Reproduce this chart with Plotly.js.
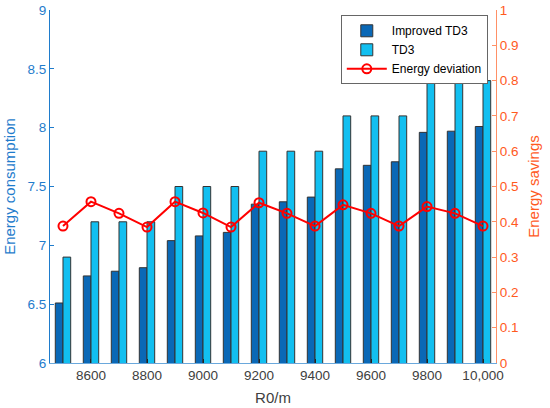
<!DOCTYPE html>
<html>
<head>
<meta charset="utf-8">
<script src="https://cdn.plot.ly/plotly-3.0.1.min.js"></script>
<style>html,body{margin:0;padding:0;background:#fff;}#chart{width:550px;height:408px;}</style>
</head>
<body>
<div id="chart"></div>
<script>
var categories = [8500, 8600, 8700, 8800, 8900, 9000, 9100, 9200, 9300, 9400, 9500, 9600, 9700, 9800, 9900, 10000];
var improvedTD3 = [6.51, 6.74, 6.78, 6.81, 7.04, 7.08, 7.11, 7.35, 7.37, 7.41, 7.65, 7.68, 7.71, 7.96, 7.97, 8.01];
var td3 = [6.9, 7.2, 7.2, 7.2, 7.5, 7.5, 7.5, 7.8, 7.8, 7.8, 8.1, 8.1, 8.1, 8.4, 8.4, 8.4];
var energyDeviation = [0.388, 0.457, 0.424, 0.385, 0.457, 0.425, 0.385, 0.454, 0.424, 0.388, 0.448, 0.424, 0.388, 0.443, 0.424, 0.388];
var xTickVals = [8600, 8800, 9000, 9200, 9400, 9600, 9800, 10000];
var xTickText = ['8600', '8800', '9000', '9200', '9400', '9600', '9800', '10,000'];

var fontFam = 'Liberation Sans, Arial, Helvetica, sans-serif';
var blue = '#1f7ccc';
var orange = '#ff5a1e';

var traces = [
  {type: 'bar', name: 'Improved TD3', x: categories, y: improvedTD3, yaxis: 'y',
   marker: {color: '#0a68b6', line: {color: '#333333', width: 1}}},
  {type: 'bar', name: 'TD3', x: categories, y: td3, yaxis: 'y',
   marker: {color: '#12bff0', line: {color: '#333333', width: 1}}},
  {type: 'scatter', mode: 'lines+markers', name: 'Energy deviation', x: categories, y: energyDeviation, yaxis: 'y2',
   line: {color: '#ff0000', width: 2},
   marker: {symbol: 'circle-open', size: 9, color: '#ff0000', line: {width: 2, color: '#ff0000'}}}
];

var layout = {
  width: 550, height: 408,
  margin: {l: 50, r: 54, t: 10, b: 45},
  paper_bgcolor: '#ffffff', plot_bgcolor: '#ffffff',
  font: {family: fontFam, size: 13.5, color: '#404040'},
  barmode: 'group', bargap: 0.45, bargroupgap: 0,
  showlegend: true,
  legend: {x: 0.652, y: 0.985, xanchor: 'left', yanchor: 'top',
           bgcolor: '#ffffff', bordercolor: '#666666', borderwidth: 1,
           font: {family: fontFam, size: 12, color: '#000000'},
           itemwidth: 40, tracegroupgap: 0},
  xaxis: {range: [8453.6, 10046.4], tickvals: xTickVals, ticktext: xTickText,
          showgrid: false, zeroline: false, showline: true, linecolor: '#6aa8dc', linewidth: 1,
          ticks: 'inside', ticklen: 4, tickcolor: '#222222',
          tickfont: {family: fontFam, size: 13.5, color: '#404040'},
          title: {text: 'R0/m', font: {family: fontFam, size: 15, color: '#404040'}, standoff: 10}},
  yaxis: {range: [6, 9], dtick: 0.5, tick0: 6,
          showgrid: false, zeroline: false, showline: true, linecolor: blue, linewidth: 1,
          ticks: 'inside', ticklen: 4, tickcolor: blue,
          tickfont: {family: fontFam, size: 13.5, color: blue},
          title: {text: 'Energy consumption', font: {family: fontFam, size: 15, color: blue}, standoff: 8}},
  yaxis2: {range: [0, 1], dtick: 0.1, tick0: 0, overlaying: 'y', side: 'right',
           showgrid: false, zeroline: false, showline: true, linecolor: '#ff9066', linewidth: 1,
           ticks: 'inside', ticklen: 4, tickcolor: '#ff9066',
           tickfont: {family: fontFam, size: 13.5, color: orange},
           title: {text: 'Energy savings', font: {family: fontFam, size: 15, color: orange}, standoff: 10}}
};

Plotly.newPlot('chart', traces, layout, {displayModeBar: false, staticPlot: true});
</script>
</body>
</html>
